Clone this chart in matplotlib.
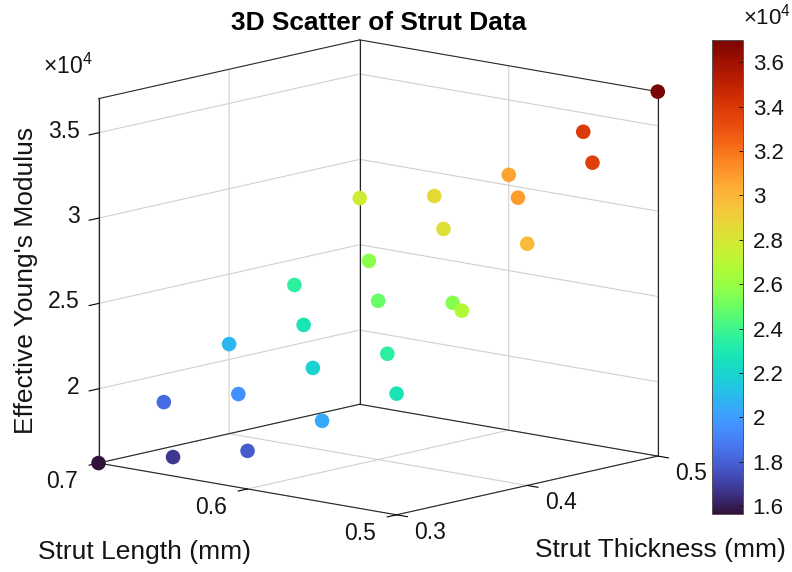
import matplotlib
matplotlib.use("Agg")
import matplotlib.pyplot as plt
from matplotlib.transforms import ScaledTranslation
import numpy as np

plt.rcParams['font.family'] = ['Liberation Sans', 'DejaVu Sans']
plt.rcParams['mathtext.fontset'] = 'custom'
plt.rcParams['mathtext.rm'] = 'Liberation Sans'
plt.rcParams['mathtext.default'] = 'rm'

thickness = [0.3]*5 + [0.35]*5 + [0.4]*5 + [0.45]*5 + [0.5]*5
length = [0.7, 0.65, 0.6, 0.55, 0.5]*5
modulus = [15650, 16760, 17880, 20400, 22750,
           18360, 19590, 21880, 23470, 26750,
           20900, 22780, 24950, 25590, 29810,
           23500, 25670, 28300, 30890, 33700,
           27730, 28610, 30610, 33890, 37000]
x_ticks = [0.3, 0.4, 0.5]
y_ticks = [0.5, 0.6, 0.7]
z_ticks = [20000, 25000, 30000, 35000]
z_tick_labels = ['2', '2.5', '3', '3.5']
cb_ticks = [16000, 18000, 20000, 22000, 24000, 26000, 28000, 30000, 32000, 34000, 36000]
cb_tick_labels = ['1.6', '1.8', '2', '2.2', '2.4', '2.6', '2.8', '3', '3.2', '3.4', '3.6']

W, H = 792, 572
TXT = '#141414'
fig = plt.figure(figsize=(W/100, H/100), dpi=100)
side = 640
cx, cy = 369.5, 286
ax = fig.add_axes([(cx-side/2)/W, 1-(cy+side/2)/H, side/W, side/H], projection='3d', proj_type='ortho')
ax.view_init(elev=11.4, azim=-138.7)
ax.set_box_aspect((396, 397, 372), zoom=1.02)
xl, yl, zl = (0.3, 0.5), (0.5, 0.7), (min(modulus), max(modulus))
ax.set_xlim(xl); ax.set_ylim(yl); ax.set_zlim(zl)

sc = ax.scatter(thickness, length, modulus, c=modulus, cmap='turbo', s=110, depthshade=False,
                vmin=zl[0], vmax=zl[1], alpha=1, linewidths=0)

ax.set_xticks(x_ticks); ax.set_yticks(y_ticks); ax.set_zticks(z_ticks)
ax.set_xticklabels(['0.3', '0.4', '0.5'], fontsize=16.5, color=TXT)
ax.set_yticklabels(['0.5', '0.6', '0.7'], fontsize=16.5, color=TXT)
ax.set_zticklabels(z_tick_labels, fontsize=16.5, color=TXT, ha='right')
ax.tick_params(axis='both', pad=4)
for a in (ax.xaxis, ax.yaxis, ax.zaxis):
    a.set_pane_color((1, 1, 1, 0))
    a.pane.set_edgecolor((0, 0, 0, 0))
    a.line.set_color('#262626')
    a.line.set_linewidth(0.8)
    a._axinfo['grid'].update(color='#d0d0d0', linewidth=0.8)
    a._axinfo['tick'].update(inward_factor=0.45, outward_factor=0.0, linewidth={True: 0.8, False: 0.5})
ax.zaxis.set_ticks_position('upper')

def nudge(axis, dx, dy):
    off = ScaledTranslation(dx/100, -dy/100, fig.dpi_scale_trans)
    orig = axis.get_major_ticks
    def patched(numticks=None):
        ticks = orig(numticks)
        for t in ticks:
            t.label1.set_transform(ax.transData + off)
        return ticks
    axis.get_major_ticks = patched

nudge(ax.xaxis, 18.5, -15)
nudge(ax.yaxis, -23, -14)
nudge(ax.zaxis, 9, -13.5)

# box edges
kw = dict(color='#262626', lw=0.8, zorder=0)
for X, Y, Z in [((xl[0], xl[1]), (yl[1], yl[1]), (zl[0], zl[0])),
                ((xl[1], xl[1]), (yl[0], yl[1]), (zl[0], zl[0])),
                ((xl[0], xl[1]), (yl[1], yl[1]), (zl[1], zl[1])),
                ((xl[1], xl[1]), (yl[0], yl[1]), (zl[1], zl[1])),
                ((xl[0], xl[0]), (yl[1], yl[1]), zl),
                ((xl[1], xl[1]), (yl[1], yl[1]), zl),
                ((xl[1], xl[1]), (yl[0], yl[0]), zl)]:
    ax.plot(X, Y, Z, **kw)

fig.text(378.5/W, 1-23/H, '3D Scatter of Strut Data', ha='center', va='center', fontsize=18.9, fontweight='bold', color='black')
fig.text(144/W, 1-552/H, 'Strut Length (mm)', ha='center', va='center', fontsize=19, color=TXT)
fig.text(660/W, 1-550/H, 'Strut Thickness (mm)', ha='center', va='center', fontsize=19, color=TXT)
fig.text(26/W, 1-280/H, "Effective Young's Modulus", ha='center', va='center', rotation=90, fontsize=19, color=TXT)
fig.text(67.5/W, 1-66/H, r'×10$^{4}$', ha='center', va='center', fontsize=16.5, color=TXT)

cax = fig.add_axes([712/W, 1-514/H, 31/W, 474/H])
cb = fig.colorbar(sc, cax=cax)
cb.set_ticks(cb_ticks, labels=cb_tick_labels)
cb.ax.tick_params(labelsize=16, length=3, width=0.7, direction='in', colors=TXT, pad=7)
cb.outline.set_linewidth(0.7)
cb.outline.set_edgecolor('#555555')
fig.text(767/W, 1-17/H, r'×10$^{4}$', ha='center', va='center', fontsize=16, color=TXT)

fig.savefig('out.png', dpi=100)
